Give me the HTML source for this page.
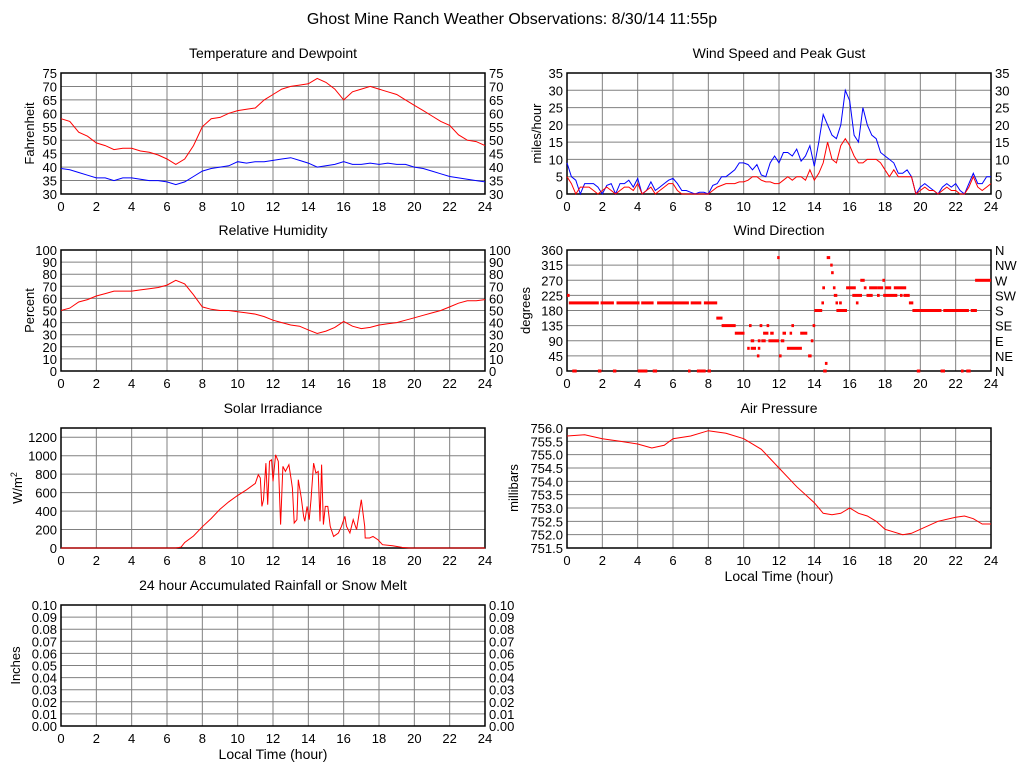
<!DOCTYPE html>
<html><head><meta charset="utf-8"><style>
body{margin:0;background:#fff;}
svg{display:block;font-family:"Liberation Sans",sans-serif;}
</style></head><body>
<svg id="c" width="1024" height="768"></svg>
<script>
const hours48 = []; for (let i=0;i<=48;i++) hours48.push(i*0.5);
const tempVals = [58,57,53,51.5,49,48,46.5,47,47,46,45.5,44.5,43,41,43,48,55,58,58.5,60,61,61.5,62,65,67,69,70,70.5,71,73,71.5,69,65,68,69,70,69,68,67,65,63,61,59,57,55.5,52,50,49.5,48];
const dewVals = [39.5,39,38,37,36,36,35,36,36,35.5,35,35,34.5,33.5,34.5,36.5,38.5,39.5,40,40.5,42,41.5,42,42,42.5,43,43.5,42.5,41.5,40,40.5,41,42,41,41,41.5,41,41.5,41,41,40,39.5,38.5,37.5,36.5,36,35.5,35,34.5];
const rhVals = [50,52,57,59,62,64,66,66,66,67,68,69,71,75,72,63,53,51,50,50,49,48,47,45,42,40,38,37,34,31,33,36,41,37,35,36,38,39,40,42,44,46,48,50,53,56,58,58,59];
const hours96 = []; for (let i=0;i<=96;i++) hours96.push(i*0.25);
const gustVals = [9,5,4,0, 3,3,3,2, 0,2.5,3,0, 3,3,4,2, 4.5,0,1,3.5, 1,2,3,4, 4.5,3,1,1, 0.5,0,0.5,0.5, 0,2.5,3,5, 5,6,7,9, 9,8.5,7,8.5, 5.5,5,9,11, 9,12,12,11, 13,9.5,11,14, 8,15,23,20, 17,16,20,30, 27,17,15,25, 20,17,16,12, 11,10,9,6, 6,7,5,0, 2,3,2,1, 0,2,3,2, 3,1,0,3, 6,3,3,5, 5];
const speedVals = [5,3,0,2, 2,2,1,0, 1,2,1,0, 1,2,2,1, 3,0,1,2, 0,1,2,3, 3,1,0,0, 0,0,0,0, 0,1,2,2.5, 3,3,3,3.5, 3.5,4,5,5, 4,3.5,3.5,3, 3,4,5,4, 5,5,4,7, 4,6,9,15, 10,9,14,16, 14,11,9,9, 10,10,10,9, 7,5,7,5, 5,5,5,0, 1,2,1,1, 0,1,2,1, 1,0,0,2, 5,2,1,2, 3];
const dirStart = [0,0.1,1.9,2.8,4.2,5.1,7.0,7.75,0.3,1.75,2.6,4.0,4.85,6.85,7.35,7.95,8.45,8.75,10.3,10.9,11.3,12.7,13.9,9.5,11.1,11.5,12.2,12.6,13.2,10.4,10.8,11.0,11.4,12.1,13.8,10.2,10.4,10.8,12.45,10.75,12.0,13.65,11.9,14.6,14.5,14.7,14.9,14.95,14.45,15.05,15.8,16.8,17.1,17.6,18.0,18.5,16.6,17.85,23.1,15.1,16.15,16.95,17.55,17.9,18.85,19.05,14.4,15.2,15.4,16.35,19.35,14.0,15.25,19.55,21.3,22.85,19.8,21.15,22.3,22.6];
const dirEnd   = [0.15,1.8,2.65,4.1,4.9,6.9,7.6,8.5,0.55,1.95,2.8,4.55,5.1,7.0,7.85,8.15,8.8,9.55,10.45,11.05,11.45,12.85,14.05,10.05,11.4,11.7,12.4,12.7,13.6,10.6,10.95,11.25,12.0,12.3,13.95,10.3,10.7,10.9,13.3,10.85,12.15,13.85,12.0,14.75,14.7,14.9,15.0,15.1,14.6,15.2,16.35,16.95,17.6,17.9,18.35,19.2,16.85,18.0,24,15.3,16.7,17.3,17.7,18.7,19.0,19.4,14.55,15.3,15.55,16.5,19.6,14.45,15.85,21.2,22.75,23.2,20.0,21.4,22.45,22.85];
const dirDeg   = [225,202.5,202.5,202.5,202.5,202.5,202.5,202.5,0,0,0,0,0,0,0,0,157.5,135,135,135,135,135,135,112.5,112.5,112.5,112.5,112.5,112.5,90,90,90,90,90,90,67.5,67.5,67.5,67.5,45,45,45,337.5,22.5,0,337.5,315,292.5,247.5,247.5,247.5,247.5,247.5,247.5,247.5,247.5,270,270,270,225,225,225,225,225,225,225,202.5,202.5,202.5,202.5,202.5,180,180,180,180,180,0,0,0,0];
const solarHours = [0,6.5,6.8,7,7.5,8,8.5,9,9.5,10,10.5,11,11.17,11.28,11.37,11.46,11.6,11.7,11.8,11.92,12.0,12.15,12.3,12.43,12.56,12.7,12.9,13.03,13.1,13.2,13.35,13.43,13.6,13.73,13.8,13.93,14.05,14.15,14.3,14.43,14.56,14.66,14.75,14.85,14.96,15.1,15.24,15.43,15.7,15.88,16.07,16.16,16.35,16.54,16.73,17.0,17.19,17.22,17.47,17.66,17.94,18.2,18.77,19.3,19.7,24];
const solarVals  = [0,0,10,60,130,230,320,420,500,570,630,700,794,758,451,523,920,469,939,956,722,1010,939,253,884,830,902,740,650,271,307,740,541,343,289,451,307,523,920,812,830,289,902,253,451,451,235,126,162,235,343,235,162,307,199,523,235,108,108,126,90,36,25,7,0,0];
const pressHours = [0,1,2,3,4,4.8,5.5,6,7,8,9,10,11,12,13,14,14.5,15,15.5,16,16.5,17,17.5,18,19,19.5,20,21,22,22.5,23,23.5,24];
const pressVals  = [755.7,755.75,755.6,755.5,755.4,755.25,755.35,755.6,755.7,755.9,755.8,755.6,755.2,754.5,753.8,753.2,752.8,752.75,752.8,753.0,752.8,752.7,752.5,752.2,752.0,752.05,752.2,752.5,752.65,752.7,752.6,752.4,752.4];
const rainHours = [0,24];
const rainVals = [0,0];
const xTicks = [0,2,4,6,8,10,12,14,16,18,20,22,24];
const dirLabels = ["N","NE","E","SE","S","SW","W","NW","N"];

const NS="http://www.w3.org/2000/svg";
const svg=document.getElementById('c');
function mk(tag,attrs,parent){const e=document.createElementNS(NS,tag);for(const k in attrs)e.setAttribute(k,attrs[k]);(parent||svg).appendChild(e);return e;}
function txt(x,y,s,size,anchor,parent,rot){const e=mk('text',{x:x,y:y,'font-size':size,'text-anchor':anchor||'middle',fill:'#000'},parent);if(rot)e.setAttribute('transform','rotate(-90 '+x+' '+y+')');e.textContent=s;return e;}

const t=txt(512,24,'Ghost Mine Ranch Weather Observations: 8/30/14 11:55p',16);



function panel(o){
  const g=mk('g',{});
  
  
  const sx=h=>o.x0+(h/24)*(o.x1-o.x0);
  const sy=v=>o.y1-(v-o.min)/(o.max-o.min)*(o.y1-o.y0);
  for(const h of xTicks){const gl=mk('line',{x1:sx(h),x2:sx(h),y1:o.y0,y2:o.y1,stroke:'#808080','stroke-width':1},g);}
  for(let v=o.min;v<=o.max+1e-9;v+=o.step){const gl=mk('line',{x1:o.x0,x2:o.x1,y1:sy(v),y2:sy(v),stroke:'#808080','stroke-width':1},g);}
  const b=mk('rect',{x:o.x0,y:o.y0,width:o.x1-o.x0,height:o.y1-o.y0,fill:'none',stroke:'#000','stroke-width':1.5},g);
  
  for(const h of xTicks){const l=txt(sx(h),o.y1+17,String(h),13,'middle',g);}
  let i=0;
  for(let v=o.min;v<=o.max+1e-9;v+=o.step,i++){
    const s=o.fmt(v);
    const l=txt(o.x0-4,sy(v)+5,s,13,'end',g);
    if(o.right){const rs=o.rightFmt?o.rightFmt(v,i):s;const r=txt(o.x1+4,sy(v)+5,rs,13,'start',g);}
  }
  const tt=txt((o.x0+o.x1)/2,o.y0-15,o.title,14,'middle',g);
  if(o.ytitle){const yt=txt(o.ytx,(o.y0+o.y1)/2,o.ytitle,13,'middle',g,true);
    if(o.sup){const sp=mk('tspan',{dy:-5,'font-size':9},yt);sp.textContent='2';}}
  if(o.xtitle){const xt=txt((o.x0+o.x1)/2,o.y1+33,'Local Time (hour)',14,'middle',g);}
  return {g,sx,sy};
}
function line(p,xs,ys,color,name){
  let d='';for(let i=0;i<xs.length;i++)d+=(i?'L':'M')+p.sx(xs[i]).toFixed(1)+' '+p.sy(ys[i]).toFixed(1);
  const e=mk('path',{d:d,fill:'none',stroke:color,'stroke-width':1},p.g);
  
}
const f0=v=>String(Math.round(v));
let p;
p=panel({name:'temperature-panel',x0:61,x1:485,y0:73,y1:194,min:30,max:75,step:5,fmt:f0,right:true,title:'Temperature and Dewpoint',ytitle:'Fahrenheit',ytx:34});
line(p,hours48,tempVals,'#ff0000','temperature-line');
line(p,hours48,dewVals,'#0000ff','dewpoint-line');

p=panel({name:'wind-speed-panel',x0:567,x1:991,y0:73,y1:194,min:0,max:35,step:5,fmt:f0,right:true,title:'Wind Speed and Peak Gust',ytitle:'miles/hour',ytx:541});
line(p,hours96,gustVals,'#0000ff','peak-gust-line');
line(p,hours96,speedVals,'#ff0000','wind-speed-line');

p=panel({name:'humidity-panel',x0:61,x1:485,y0:250,y1:371,min:0,max:100,step:10,fmt:f0,right:true,title:'Relative Humidity',ytitle:'Percent',ytx:34});
line(p,hours48,rhVals,'#ff0000','humidity-line');

p=panel({name:'wind-direction-panel',x0:567,x1:991,y0:250,y1:371,min:0,max:360,step:45,fmt:f0,right:true,rightFmt:(v,i)=>dirLabels[i],title:'Wind Direction',ytitle:'degrees',ytx:530});
for(let i=0;i<dirDeg.length;i++){
  const x=p.sx(dirStart[i]),w=Math.max(2.5,p.sx(dirEnd[i])-x);
  const r=mk('rect',{x:x.toFixed(1),y:(p.sy(dirDeg[i])-1.5).toFixed(1),width:w.toFixed(1),height:3,fill:'#ff0000'},p.g);
  
  
}

p=panel({name:'solar-panel',x0:61,x1:485,y0:428,y1:548,min:0,max:1300,step:200,fmt:f0,right:false,title:'Solar Irradiance',ytitle:'W/m',sup:true,ytx:22});
line(p,solarHours,solarVals,'#ff0000','solar-line');

p=panel({name:'pressure-panel',x0:567,x1:991,y0:428,y1:548,min:751.5,max:756.0,step:0.5,fmt:v=>v.toFixed(1),right:false,title:'Air Pressure',ytitle:'millibars',ytx:518,xtitle:true});
line(p,pressHours,pressVals,'#ff0000','pressure-line');

p=panel({name:'rainfall-panel',x0:61,x1:485,y0:605,y1:726,min:0,max:0.1,step:0.01,fmt:v=>v.toFixed(2),right:true,title:'24 hour Accumulated Rainfall or Snow Melt',ytitle:'Inches',ytx:20,xtitle:true});
line(p,rainHours,rainVals,'#000000','rainfall-line');
</script>
</body></html>
